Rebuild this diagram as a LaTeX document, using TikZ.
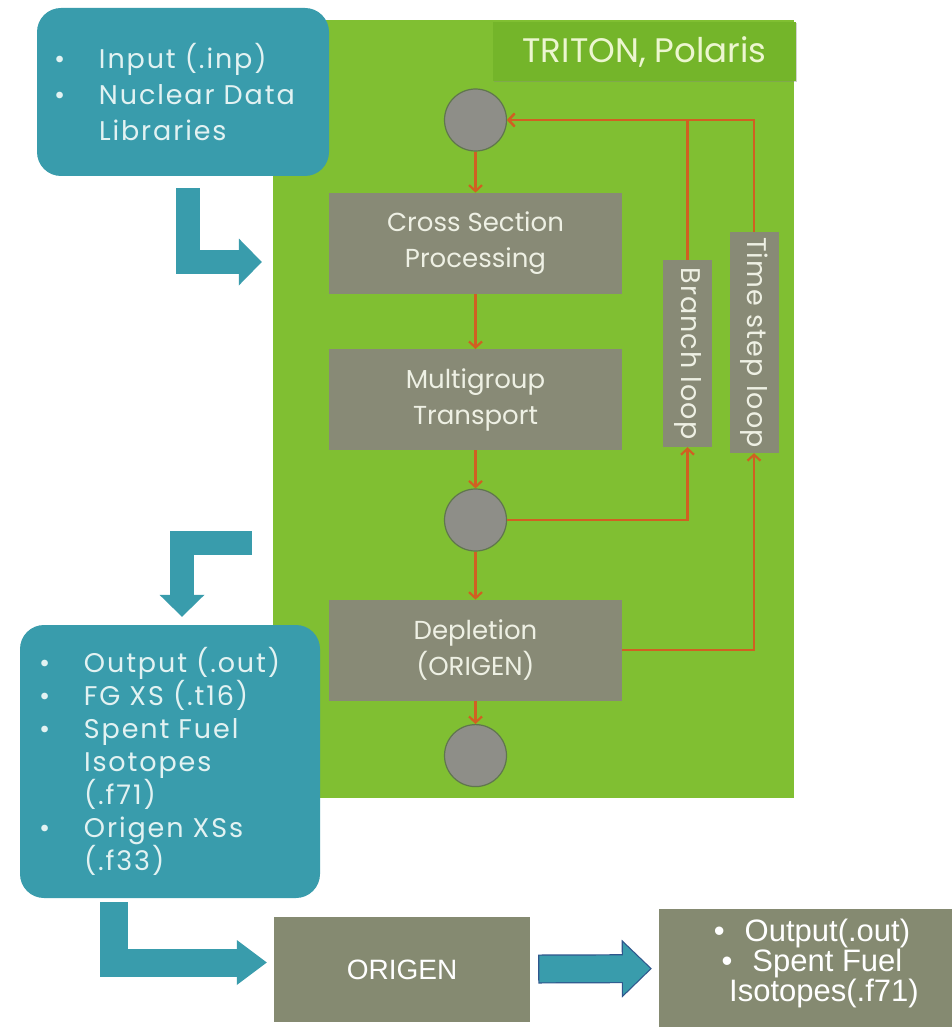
\documentclass[tikz,border=0pt]{standalone}
\usepackage{fontspec}
\setmainfont{Poppins}
\newfontfamily\widefont{Poppins}[LetterSpace=7]
\newfontfamily\loopfont{Poppins}[LetterSpace=4]
\newfontfamily\arialfont{Liberation Sans}
\usetikzlibrary{positioning}
\usetikzlibrary{arrows.meta,shadows}

\definecolor{panelgreen}{RGB}{128,191,50}
\definecolor{titlegreen}{RGB}{116,181,42}
\definecolor{titletext}{RGB}{236,246,208}
\definecolor{boxteal}{RGB}{57,156,172}
\definecolor{tealtext}{RGB}{226,242,242}
\definecolor{stagegray}{RGB}{136,138,118}
\definecolor{stagetext}{RGB}{238,240,228}
\definecolor{hubgray}{RGB}{142,142,136}
\definecolor{hubedge}{RGB}{96,118,78}
\definecolor{looporange}{RGB}{208,96,34}
\definecolor{olivegray}{RGB}{133,138,113}
\definecolor{arrowblue}{RGB}{47,86,140}

\newcommand{\bitem}{\makebox[45pt][l]{\textbullet}}
\newcommand{\bgap}{\hspace*{45pt}}

\begin{document}
\begin{tikzpicture}[
    x=1pt, y=-1pt,
    node distance=40pt and 40pt,
    panel/.style={fill=panelgreen, minimum width=521pt, minimum height=778pt, inner sep=0pt},
    title/.style={fill=titlegreen, text=titletext, minimum width=303pt, minimum height=59pt,
      font=\fontsize{34}{40}\selectfont, drop shadow={shadow xshift=1pt, shadow yshift=-1.5pt, opacity=0.35}},
    stage/.style={fill=stagegray, text=stagetext, minimum width=293pt, minimum height=101pt,
      inner sep=0pt, align=center, font=\fontsize{26}{36}\selectfont},
    hub/.style={circle, fill=hubgray, draw=hubedge, line width=1.2pt, minimum size=62pt, inner sep=0pt},
    loopbox/.style={fill=stagegray, text=stagetext, rotate=-90, minimum height=49pt, inner sep=0pt,
      font=\loopfont\fontsize{27}{27}\selectfont},
    flow/.style={draw=looporange, line width=2.2pt, -{Straight Barb[length=6pt,width=13pt]}},
    databox/.style={fill=boxteal, text=tealtext, rounded corners=24pt, align=left, inner ysep=0pt},
    fatarrow/.style={draw=boxteal, line width=24pt},
    result/.style={fill=olivegray, text=white, inner sep=0pt, font=\arialfont}
    ]

    \useasboundingbox (0,0) rectangle (951,1027);
    \fill[white] (0,0) rectangle (951,1027);

    \node[panel] (panel) at (533.5,409) {};
    \node[title, anchor=north east] (title) at ([shift={(2,2)}]panel.north east) {TRITON, Polaris};

    \node[hub] (c1) at (475.5,120) {};
    \node[stage, below=41pt of c1] (cs) {Cross Section\\Processing};
    \node[stage, below=55pt of cs] (mg) {Multigroup\\Transport};
    \node[hub, below=38pt of mg] (c2) {};
    \node[stage, below=48pt of c2] (dep) {Depletion\\(ORIGEN)};
    \node[hub, below=23pt of dep] (c3) {};

    \node[loopbox, minimum width=187pt] (branch) at (687.5,353.5) {Branch loop};
    \node[loopbox, minimum width=221pt] (time) at (754,342.5) {Time step loop};

    \node[databox, text width=258pt, inner xsep=17pt, minimum height=168pt,
      font=\widefont\fontsize{27}{36}\selectfont] (inbox) at (183,92)
      {\bitem Input (.inp)\\ \bitem Nuclear Data\\ \bgap Libraries};
    \node[databox, text width=262pt, inner xsep=19pt, minimum height=273pt,
      font=\widefont\fontsize{27}{33}\selectfont] (outbox) at (170,761.5)
      {\bitem Output (.out)\\ \bitem FG XS (.t16)\\ \bitem Spent Fuel\\ \bgap Isotopes\\ \bgap (.f71)\\
       \bitem Origen XSs\\ \bgap (.f33)};

    \node[result, minimum width=256pt, minimum height=105pt, font=\arialfont\fontsize{28}{30}\selectfont]
      (origen) at (402,969.5) {ORIGEN};
    \node[result, minimum width=306pt, minimum height=118pt, align=center,
      font=\arialfont\fontsize{31}{30}\selectfont] (final) at (812,968)
      {\textbullet\hspace{20pt}Output(.out)\\ \textbullet\hspace{20pt}Spent Fuel\\
       \hspace*{24pt}Isotopes(.f71)\rule[-16pt]{0pt}{16pt}};

    \path (c1) edge[flow] (cs)
    (cs) edge[flow] (mg)
    (mg) edge[flow] (c2)
    (c2) edge[flow] (dep)
    (dep) edge[flow] (c3)
    ;
    \draw[flow] (c2.east) -| (branch.east);
    \draw[flow] (dep.east) -| (time.east);
    \draw[flow] (branch.west) |- (c1.east);
    \draw[flow] (time.west) |- (c1.east);

    % big teal arrows
    \draw[fatarrow, -{Triangle[length=23pt,width=47pt,line width=0pt 0 0]}]
      ([shift={(5,12)}]inbox.south) |- ([shift={(-11,-147)}]panel.west);
    \draw[fatarrow, -{Triangle[length=22pt,width=45pt,line width=0pt 0 0]}]
      ([shift={(-21,134)}]panel.west) -| ([shift={(12,-8)}]outbox.north);
    \draw[fatarrow, line width=28pt, -{Triangle[length=30pt,width=45pt,line width=0pt 0 0]}]
      ([shift={(-56.5,4)}]outbox.south) |- ([shift={(-7,-7)}]origen.west);
    \draw[fatarrow, draw=arrowblue, line width=29pt, shorten <=8pt, shorten >=7pt,
      -{Triangle[length=30pt,width=58pt,line width=0pt 0 0]}] (origen) -- (final);
    \draw[fatarrow, line width=26.6pt, shorten <=9.2pt, shorten >=8.7pt,
      -{Triangle[length=27pt,width=52pt,line width=0pt 0 0]}] (origen) -- (final);

\end{tikzpicture}
\end{document}
